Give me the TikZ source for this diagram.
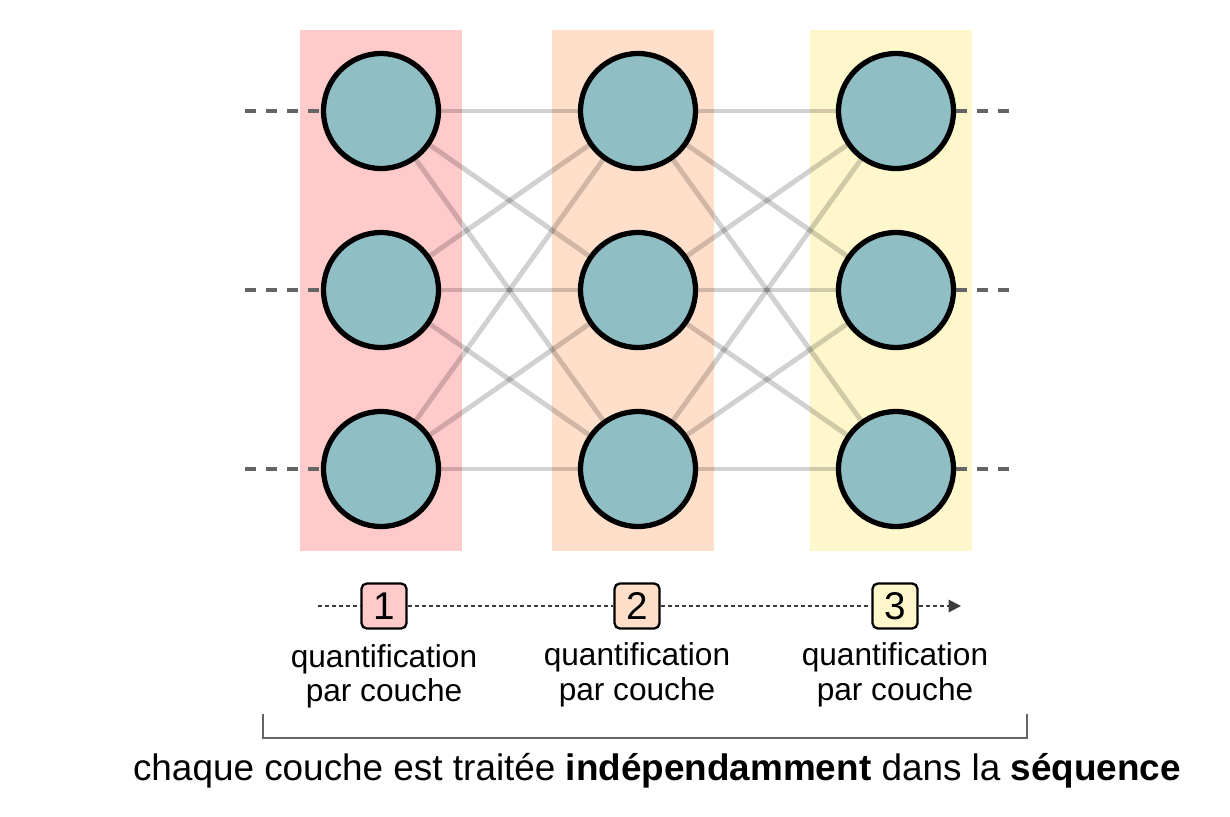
\documentclass[tikz,border=0pt]{standalone}
\usepackage{fontspec}
\setmainfont{Liberation Sans}
\usetikzlibrary{arrows.meta,positioning,backgrounds}
\definecolor{layerA}{RGB}{255,202,202}
\definecolor{layerB}{RGB}{255,223,202}
\definecolor{layerC}{RGB}{255,247,204}
\definecolor{neuroncol}{RGB}{143,190,197}
\definecolor{stubcol}{RGB}{100,100,100}

\begin{document}
\begin{tikzpicture}[x=0.02cm,y=-0.02cm,
  unit/.style={circle,draw=black,fill=neuroncol,line width=3pt,minimum size=2.3cm,inner sep=0pt},
  link/.style={draw=black,opacity=0.18,line width=2.8pt},
  stubline/.style={draw=stubcol,line width=2.8pt,dash pattern=on 6pt off 6pt},
  stepno/.style={draw,rounded corners=3pt,line width=1.3pt,minimum size=0.9cm,inner sep=0pt,font=\fontsize{22}{22}\selectfont},
  caption/.style={align=center,font=\fontsize{18}{19.5}\selectfont}]
  \useasboundingbox (0,0) rectangle (1230,816);
  % layers
  \foreach \c/\x in {1/381,2/638,3/896}
    \foreach \r/\y in {1/111,2/290,3/469}
      \node[unit] (n\c\r) at (\x,\y) {};
  % open ends on both sides
  \foreach \r/\y in {1/111,2/290,3/469} {
    \coordinate (in\r) at (245,\y);
    \coordinate (out\r) at (1015,\y);
    \draw[stubline] (in\r) -- (n1\r.west);
    \draw[stubline] (n3\r.east) -- (out\r);
  }
  \begin{scope}[on background layer]
    \fill[layerA] (300,30) rectangle (462,551);
    \fill[layerB] (552,30) rectangle (714,551);
    \fill[layerC] (810,30) rectangle (972,551);
    % full connections between neighbouring layers
    \foreach \a/\b in {1/2,2/3}
      \foreach \i in {1,2,3}
        \foreach \j in {1,2,3}
          \draw[link] (n\a\i.center) -- (n\b\j.center);
  \end{scope}
  % sequence of steps
  \node[stepno,fill=layerA] (s1) at (384,606) {1};
  \node[stepno,fill=layerB] (s2) at (637,606) {2};
  \node[stepno,fill=layerC] (s3) at (895,606) {3};
  \coordinate (t0) at (318,606);
  \coordinate (t4) at (961,606);
  \begin{scope}[stubcol!60!black,line width=1.1pt,dash pattern=on 2.3pt off 1.7pt]
    \draw (t0) -- (s1);
    \draw (s1) -- (s2);
    \draw (s2) -- (s3);
    \draw[-{Triangle[length=7pt,width=7pt]}] (s3) -- (t4);
  \end{scope}
  \node[caption,below=5pt of s1] (q1) {quantification\\par couche};
  \node[caption,below=4pt of s2] (q2) {quantification\\par couche};
  \node[caption,below=4pt of s3] (q3) {quantification\\par couche};
  % bracket and conclusion
  \coordinate (b1) at (263,714);
  \coordinate (b2) at (1027,714);
  \draw[stubcol,line width=1.2pt] (b1) -- ++(0,24) -| (b2);
  \node[font=\fontsize{21}{23}\selectfont] (msg) at (657,771)
    {chaque couche est traitée \textbf{indépendamment} dans la \textbf{séquence}};
\end{tikzpicture}
\end{document}
